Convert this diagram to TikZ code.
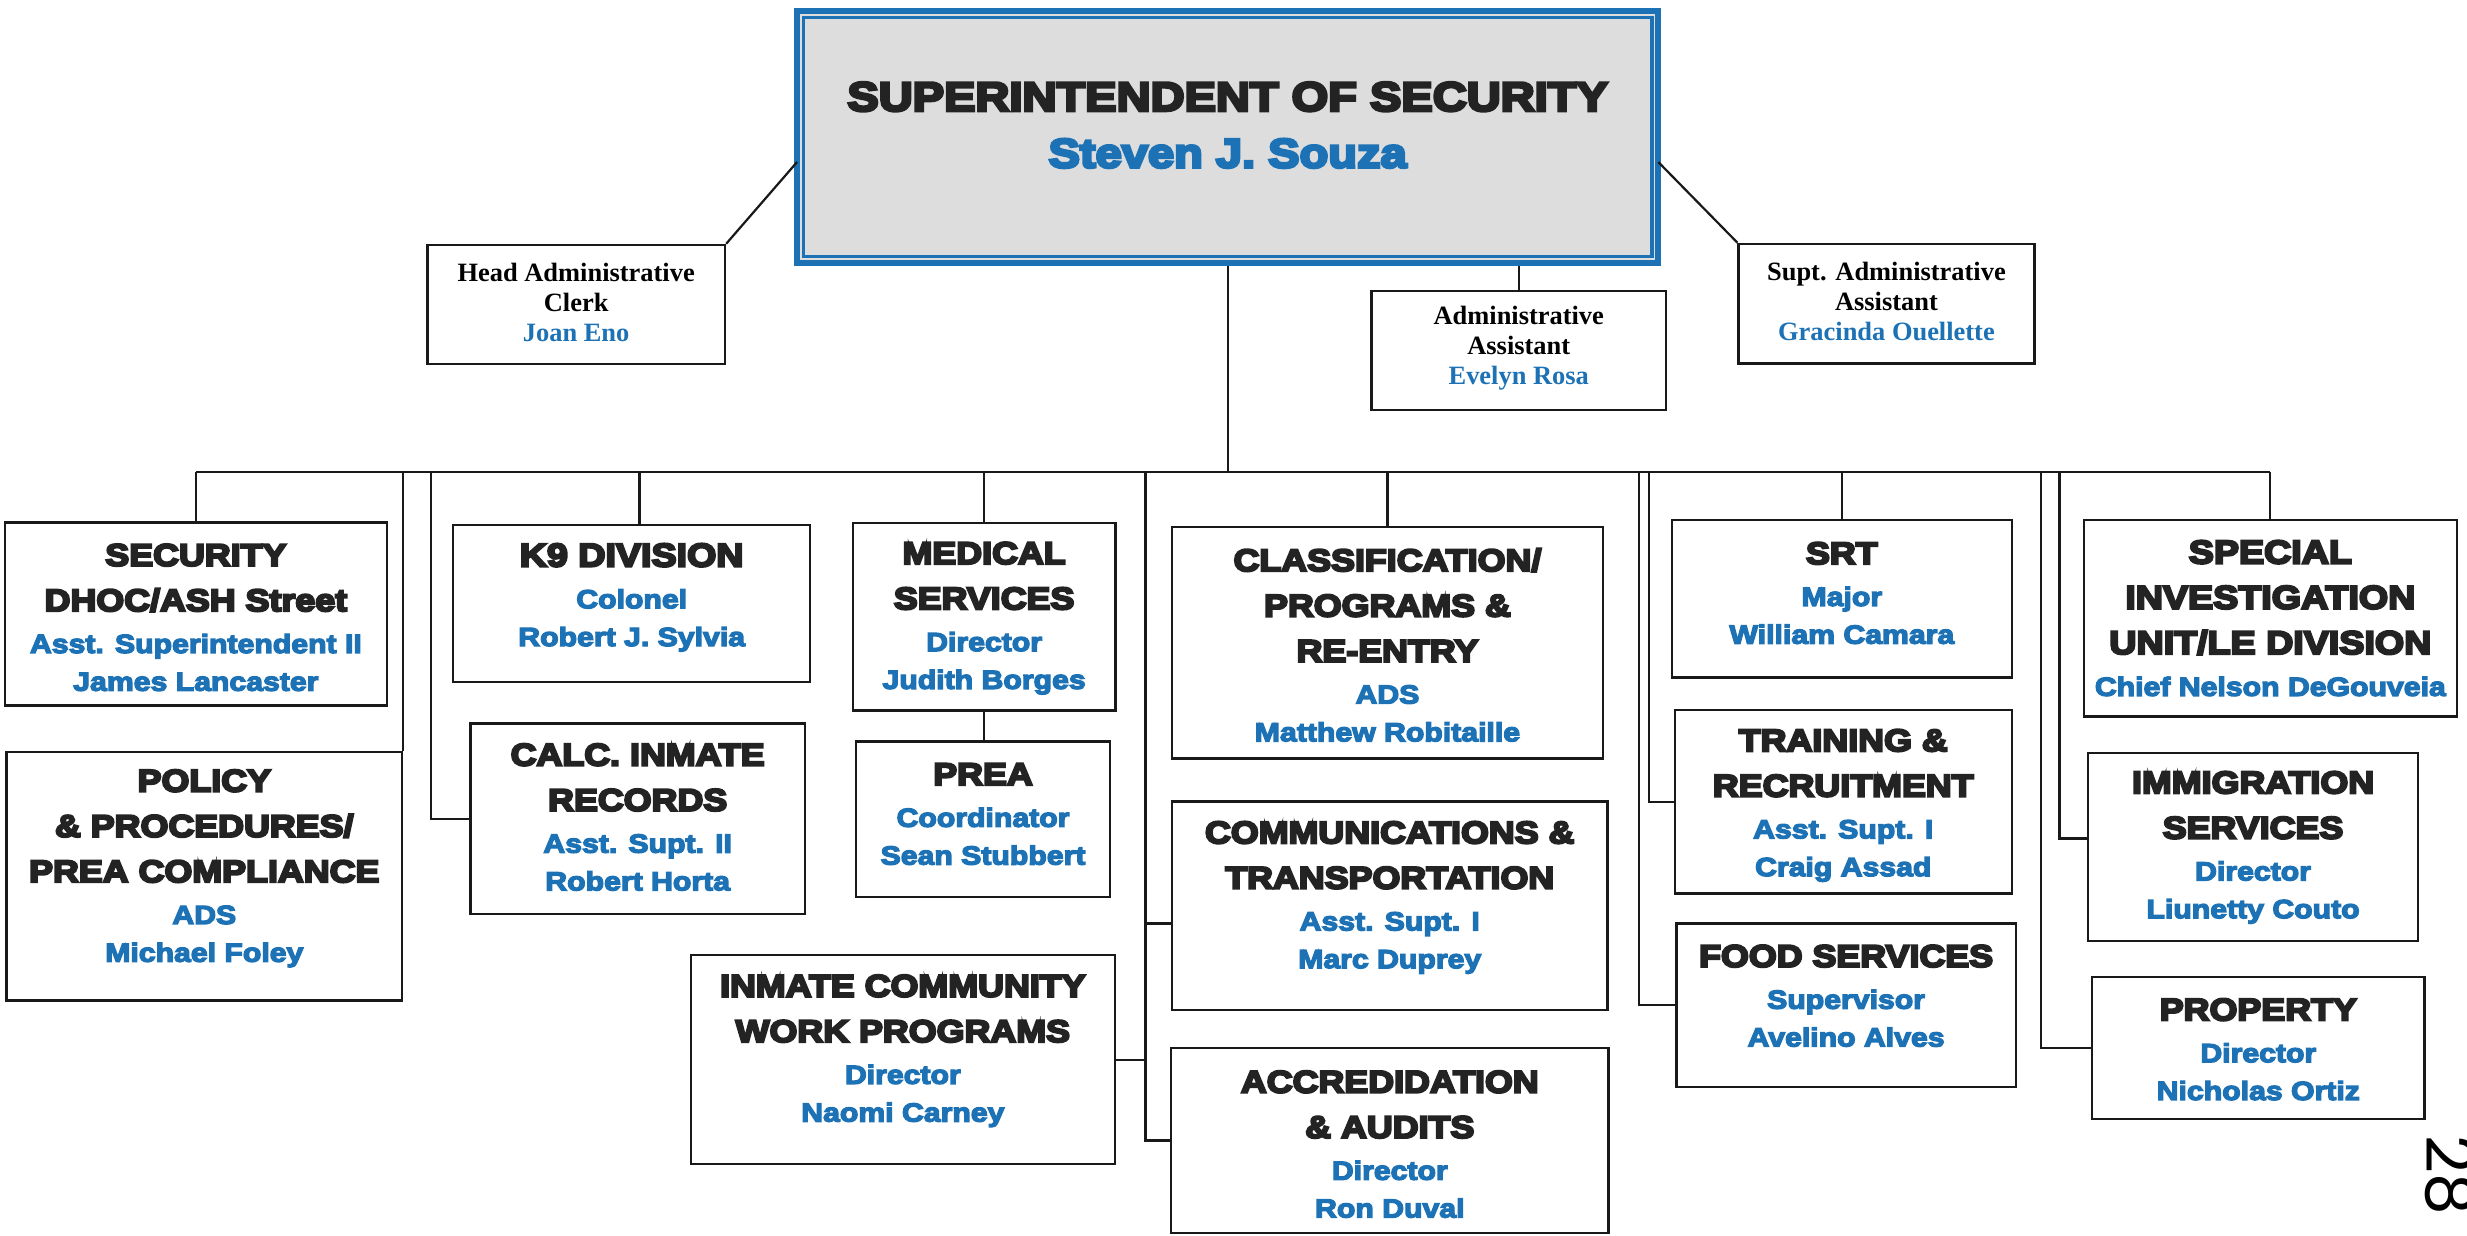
\documentclass[tikz,border=0pt]{standalone}
\usepackage{fontspec}
\setmainfont{Liberation Sans}
\newfontfamily\hdf[FakeStretch=1.15,FakeBold=7]{Liberation Sans Bold}
\newfontfamily\blf[FakeStretch=1.15,FakeBold=5]{Liberation Sans Bold}
\newfontfamily\tmsf{Liberation Serif}
\newfontfamily\pnf{Poppins}
\definecolor{tblue}{RGB}{28,114,181}
\definecolor{hdcol}{RGB}{35,35,35}
\definecolor{topgray}{RGB}{221,221,221}
\newcommand\bn[1]{{\color{tblue}\blf\fontsize{8.35}{12}\selectfont #1}}
\newcommand\hb[1]{{\fontsize{10.4}{14.4}\selectfont #1}}
\tikzset{
  obx/.style={draw=black!90, line width=0.75pt, inner sep=0pt},
  otx/.style={align=center, inner sep=0pt, text=hdcol, font=\hdf\fontsize{9.9}{14.4}\selectfont},
  ttx/.style={align=center, inner sep=0pt, text=black, font=\tmsf\bfseries\fontsize{8.4}{9.5}\selectfont},
  conn/.style={draw=black!90, line width=0.7pt},
}
% name, x1, y1, x2, y2, text-y, text
\newcommand\obox[7]{%
  \node[obx, minimum width={(#4-#2)*0.5pt}, minimum height={(#5-#3)*0.5pt}] (#1) at ({(#2+#4)/2},{(#3+#5)/2}) {};
  \node[otx] (#1t) at ({(#2+#4)/2},#6) {#7};
}
\newcommand\tbox[7]{%
  \node[obx, minimum width={(#4-#2)*0.5pt}, minimum height={(#5-#3)*0.5pt}] (#1) at ({(#2+#4)/2},{(#3+#5)/2}) {};
  \node[ttx] (#1t) at ({(#2+#4)/2},#6) {#7};
}
\begin{document}
\begin{tikzpicture}[x=0.5pt,y=-0.5pt]
\useasboundingbox (0,0) rectangle (1568,785);
\fill[white] (0,0) rectangle (1568,785);

% top box
\node[draw=tblue, line width=2pt, fill=topgray, inner sep=0pt,
      minimum width={(1054-506.6)*0.5pt}, minimum height={(167-7)*0.5pt}] (top) at (780.3,87) {};
\draw[tblue, line width=1.1pt] ([shift={(3pt,-3pt)}]top.north west) rectangle ([shift={(-3pt,3pt)}]top.south east);
\node[align=center, inner sep=0pt, text=hdcol, font=\hdf\fontsize{13}{18}\selectfont] (toptx) at (780.3,79.5)
  {SUPERINTENDENT OF SECURITY\\{\color{tblue}Steven J. Souza}};

% staff boxes (serif)
\tbox{hadm}{271.6}{155.7}{460.8}{231.4}{192}{Head Administrative\\Clerk\\{\color{tblue}Joan Eno}}
\tbox{admin}{871.7}{185}{1058.9}{260.6}{221.4}{Administrative\\Assistant\\{\color{tblue}Evelyn Rosa}}
\tbox{supt}{1105}{155}{1293}{231}{191.5}{Supt. Administrative\\Assistant\\{\color{tblue}Gracinda Ouellette}}

% division boxes
\obox{sec}{3.2}{332}{245.8}{448.5}{392.5}{SECURITY\\DHOC/ASH Street\\[-1.1pt]\bn{Asst. Superintendent II}\\[-2.4pt]\bn{James Lancaster}}
\obox{pol}{4.1}{477.8}{255.6}{636}{552}{POLICY\\\& PROCEDURES/\\PREA COMPLIANCE\\[-1.1pt]\bn{ADS}\\[-2.4pt]\bn{Michael Foley}}
\obox{k9}{288}{333.7}{515}{433.3}{379.8}{\hb{K9 DIVISION}\\[-1.1pt]\bn{Colonel}\\[-2.4pt]\bn{Robert J. Sylvia}}
\obox{calc}{299}{459.8}{511.6}{581}{519.4}{CALC. INMATE\\RECORDS\\[-1.1pt]\bn{Asst. Supt. II}\\[-2.4pt]\bn{Robert Horta}}
\obox{med}{542}{332.6}{709}{451.7}{393}{MEDICAL\\SERVICES\\[-1.1pt]\bn{Director}\\[-2.4pt]\bn{Judith Borges}}
\obox{prea}{544}{471.4}{705.6}{570}{517.5}{PREA\\[-1.1pt]\bn{Coordinator}\\[-2.4pt]\bn{Sean Stubbert}}
\obox{icw}{439}{607}{708.7}{740}{668}{INMATE COMMUNITY\\WORK PROGRAMS\\[-1.1pt]\bn{Director}\\[-2.4pt]\bn{Naomi Carney}}
\obox{cls}{744.7}{334.8}{1019}{482}{410}{CLASSIFICATION/\\PROGRAMS \&\\RE-ENTRY\\[-1.1pt]\bn{ADS}\\[-2.4pt]\bn{Matthew Robitaille}}
\obox{com}{745}{509.5}{1021.6}{642}{570.5}{COMMUNICATIONS \&\\TRANSPORTATION\\[-1.1pt]\bn{Asst. Supt. I}\\[-2.4pt]\bn{Marc Duprey}}
\obox{acc}{744.3}{666.3}{1022.4}{783.5}{727.3}{ACCREDIDATION\\\& AUDITS\\[-1.1pt]\bn{Director}\\[-2.4pt]\bn{Ron Duval}}
\obox{srt}{1062.6}{330.5}{1278.7}{430.5}{377}{SRT\\[-1.1pt]\bn{Major}\\[-2.4pt]\bn{William Camara}}
\obox{trn}{1064.4}{451.4}{1278.7}{568}{512}{TRAINING \&\\RECRUITMENT\\[-1.1pt]\bn{Asst. Supt. I}\\[-2.4pt]\bn{Craig Assad}}
\obox{food}{1065.5}{587}{1281.2}{691}{633}{FOOD SERVICES\\[-1.1pt]\bn{Supervisor}\\[-2.4pt]\bn{Avelino Alves}}
\obox{sp}{1324.4}{330.5}{1561.6}{455.5}{393}{\hb{SPECIAL}\\\hb{INVESTIGATION}\\\hb{UNIT/LE DIVISION}\\[-1.1pt]\bn{Chief Nelson DeGouveia}}
\obox{imm}{1327}{478.5}{1537}{598}{538.7}{IMMIGRATION\\SERVICES\\[-1.1pt]\bn{Director}\\[-2.4pt]\bn{Liunetty Couto}}
\obox{prop}{1329.7}{621}{1541}{711.3}{667}{PROPERTY\\[-1.1pt]\bn{Director}\\[-2.4pt]\bn{Nicholas Ortiz}}

% connectors from the top box
\coordinate (tl) at (506.6,103);
\coordinate (tr) at (1054,103);
\draw[conn] (tl) -- (hadm.north east);
\draw[conn] (tr) -- (supt.north west);
\draw[conn] (top.south -| admin.north) -- (admin.north);

% bus
\coordinate (busL) at (124.5,300);
\coordinate (busR) at (1443,300);
\draw[conn] (busL) -- (busR);
\draw[conn] (top.south) -- (top.south |- busL);

% left group
\draw[conn] (sec.north) -- (sec.north |- busL);
\draw[conn] (pol.north east) -- (pol.north east |- busL);
\coordinate (cbus) at (274,300);
\draw[conn] (calc.west) -| (cbus);
\coordinate (kbus) at (406.5,300);
\draw[conn] (kbus) -- (kbus |- k9.north);
\draw[conn] (med.north) -- (med.north |- busL);
\draw[conn] (med.south) -- (med.south |- prea.north);

% middle group
\coordinate (vbus) at (728,300);
\coordinate (vcom) at (728,587);
\draw[conn] (vbus) |- (acc.west);
\draw[conn] (vcom) -- (vcom -| com.west);
\draw[conn] (icw.east) -- (icw.east -| vbus);
\draw[conn] (cls.north) -- (cls.north |- busL);

% right groups
\coordinate (fbus) at (1041.5,300);
\draw[conn] (food.west) -| (fbus);
\coordinate (tbus) at (1048,300);
\draw[conn] (trn.west) -| (tbus);
\draw[conn] (srt.north) -- (srt.north |- busL);
\coordinate (pbus) at (1297,300);
\draw[conn] (prop.west) -| (pbus);
\coordinate (ibus) at (1309,300);
\coordinate (ie) at (1309,533);
\draw[conn] (ibus) -- (ie) -- (ie -| imm.west);
\draw[conn] (sp.north) -- (sp.north |- busL);

% page number
\node[rotate=-90, anchor=base west, inner sep=0pt, font=\pnf\fontsize{21}{21}\selectfont] (pgno) at (1542,721) {28};
\end{tikzpicture}
\end{document}
